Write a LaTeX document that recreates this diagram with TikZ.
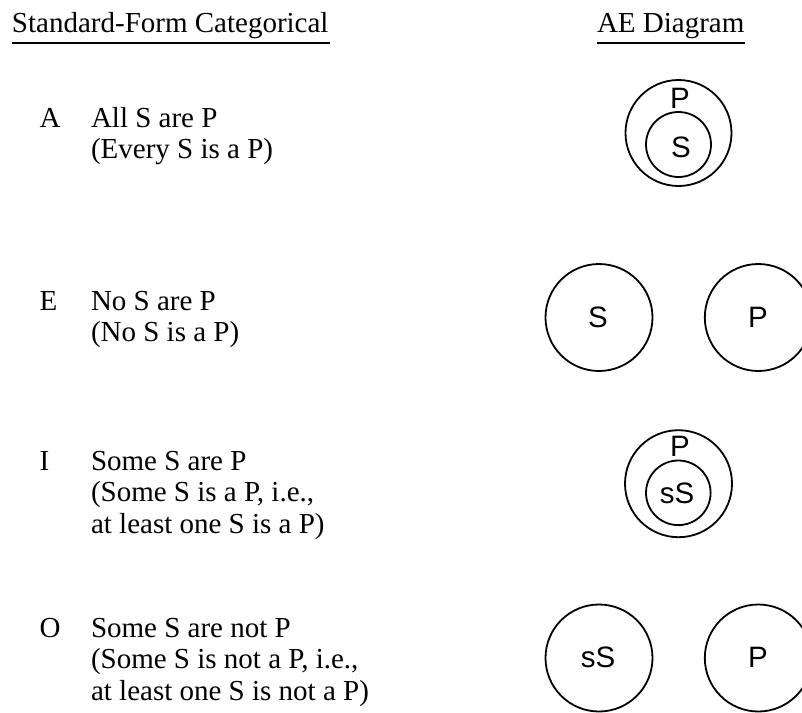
\documentclass[tikz,border=0pt]{standalone}
\usepackage{fontspec}
\setmainfont{Liberation Serif}
\newfontfamily\arialf{Liberation Sans}
\begin{document}
\begin{tikzpicture}[x=1pt,y=-1pt,
  txt/.style={anchor=base west,inner sep=0pt,outer sep=0pt,font=\fontsize{29}{33}\selectfont},
  lbl/.style={anchor=base,inner sep=0pt,outer sep=0pt,font=\arialf\fontsize{29.5}{33}\selectfont},
  ring/.style={circle,draw=black,line width=1.8pt,inner sep=0pt,outer sep=0pt,minimum size=#1},
  uline/.style={line width=2pt}]
\useasboundingbox (0,0) rectangle (802,712);
% headers
\node[txt] (h1) at (12,32.3) {Standard-Form Categorical};
\node[txt] (h2) at (597,32.3) {AE Diagram};
\draw[uline] (12,42.7) -- (330,42.7);
\draw[uline] (597,42.7) -- (745,42.7);
% A
\node[txt] (lA) at (39.5,127.5) {A};
\node[txt] (tA1) at (91,127.5) {All S are P};
\node[txt] (tA2) at (91,158.5) {(Every S is a P)};
% E
\node[txt] (lE) at (39.5,310) {E};
\node[txt] (tE1) at (91,310) {No S are P};
\node[txt] (tE2) at (91,341.5) {(No S is a P)};
% I
\node[txt] (lI) at (39.5,470) {I};
\node[txt] (tI1) at (91,470) {Some S are P};
\node[txt] (tI2) at (91,501.5) {(Some S is a P, i.e.,};
\node[txt] (tI3) at (91,533) {at least one S is a P)};
% O
\node[txt] (lO) at (39.5,637) {O};
\node[txt] (tO1) at (91,637) {Some S are not P};
\node[txt] (tO2) at (91,668.5) {(Some S is not a P, i.e.,};
\node[txt] (tO3) at (91,700) {at least one S is not a P)};
% A diagram
\node[ring=106pt] (aP) at (678.5,133) {};
\node[ring=65pt] (aS) at (678.5,144.5) {};
\node[lbl] (aPl) at (680,108.3) {P};
\node[lbl] (aSl) at (681,157.3) {S};
% E diagram
\node[ring=107pt] (eS) at (599,317.5) {};
\node[ring=107pt] (eP) at (758.3,317.5) {};
\node[lbl] (eSl) at (598,327.3) {S};
\node[lbl] (ePl) at (758,327.3) {P};
% I diagram
\node[ring=107pt] (iP) at (678.5,483.7) {};
\node[ring=64.6pt] (iS) at (678.3,492.8) {};
\node[lbl] (iPl) at (680,456.7) {P};
\node[lbl] (iSl) at (677,503.3) {sS};
% O diagram
\node[ring=107pt] (oS) at (599,658) {};
\node[ring=107pt] (oP) at (758.3,658) {};
\node[lbl] (oSl) at (598,667.5) {sS};
\node[lbl] (oPl) at (758,667.5) {P};
\end{tikzpicture}
\end{document}
